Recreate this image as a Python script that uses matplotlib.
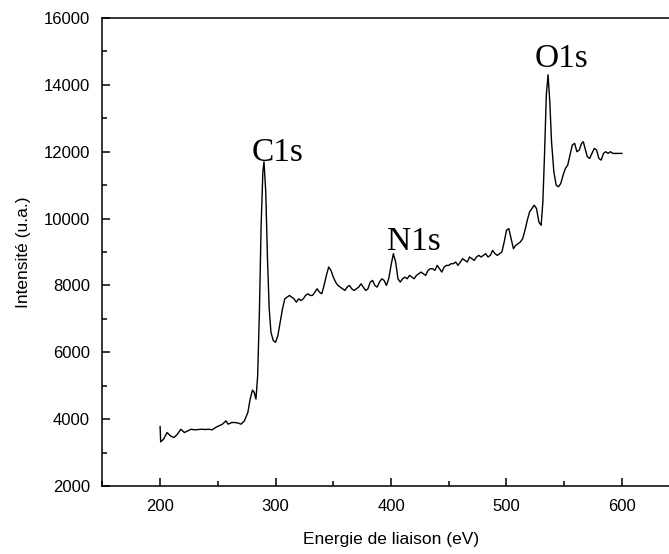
import numpy as np
import matplotlib.pyplot as plt

# XPS survey spectrum: binding energy (eV) vs intensity (a.u.)
energie = [
    200, 200.5, 203, 206, 209, 212, 215, 218, 221, 224, 227, 230, 233, 236,
    239, 242, 245, 248, 251, 254, 257, 259, 262, 265, 268, 270, 273, 276,
    278, 280, 281.5, 283, 284.5, 286, 287.5, 289, 290, 291.5, 293, 294.5,
    296, 298, 300, 302, 304, 306, 308, 310, 312, 314, 316, 318, 320, 322,
    324, 326, 328, 330, 332, 334, 336, 338, 340, 342, 344, 346, 348, 350,
    352, 354, 356, 358, 360, 362, 364, 366, 368, 370, 372, 374, 376, 378,
    380, 382, 384, 386, 388, 390, 392, 394, 396, 398, 400, 402, 404, 406,
    408, 410, 412, 414, 416, 418, 420, 422, 424, 426, 428, 430, 432, 434,
    436, 438, 440, 442, 444, 446, 448, 450, 452, 454, 456, 458, 460, 462,
    464, 466, 468, 470, 472, 474, 476, 478, 480, 482, 484, 486, 488, 490,
    492, 494, 496, 498, 500, 502, 504, 506, 508, 510, 512, 514, 516, 518,
    520, 522, 524, 526, 528, 530, 531.5, 533, 534.5, 536, 537.5, 539, 541,
    543, 545, 547, 549, 551, 553, 555, 557, 559, 561, 563, 565, 566.5, 568,
    570, 572, 574, 576, 578, 580, 582, 584, 586, 588, 590, 592, 596, 600,
]
intensite = [
    3780, 3320, 3400, 3600, 3500, 3450, 3550, 3700, 3600, 3650, 3700, 3680, 3690, 3700,
    3690, 3700, 3680, 3750, 3800, 3850, 3950, 3850, 3900, 3900, 3880, 3850, 3950, 4200,
    4600, 4870, 4800, 4600, 5300, 7200, 9800, 11400, 11700, 10800, 8800, 7300,
    6600, 6350, 6300, 6500, 6900, 7300, 7600, 7650, 7700, 7650, 7600, 7500, 7600, 7550,
    7600, 7700, 7750, 7700, 7700, 7800, 7900, 7800, 7750, 8000, 8300, 8550, 8450, 8250,
    8100, 8000, 7950, 7900, 7850, 7950, 8000, 7900, 7850, 7900, 7950, 8050, 7950, 7850,
    7900, 8100, 8150, 8000, 7950, 8100, 8200, 8150, 8000, 8200, 8600, 8950, 8700, 8200,
    8100, 8200, 8250, 8200, 8300, 8250, 8200, 8300, 8350, 8400, 8350, 8300, 8450, 8500,
    8500, 8450, 8600, 8500, 8400, 8550, 8600, 8600, 8650, 8650, 8700, 8600, 8700, 8800,
    8750, 8700, 8850, 8800, 8750, 8850, 8900, 8850, 8900, 8950, 8850, 8900, 9050, 8950,
    8900, 8950, 9000, 9300, 9650, 9700, 9400, 9100, 9200, 9250, 9300, 9400, 9650, 9950,
    10200, 10300, 10400, 10300, 9900, 9800, 10500, 12000, 13700, 14300, 13500, 12300, 11400,
    11000, 10950, 11050, 11300, 11500, 11600, 11900, 12200, 12250, 12000, 12050, 12250, 12300, 12100,
    11850, 11800, 11950, 12100, 12050, 11800, 11750, 11950, 12000, 11950, 12000, 11950, 11950, 11950,
]

# peak labels
pics = ["C1s", "N1s", "O1s"]
pics_x = [302, 420, 548]
pics_y = [11730, 9050, 14540]

fig = plt.figure(figsize=(6.69, 5.54), dpi=100)
ax = fig.add_axes([0.153, 0.1227, 0.863, 0.8448])

ax.plot(energie, intensite, color="black", linewidth=1.0)

for nom, x, y in zip(pics, pics_x, pics_y):
    ax.text(x, y, nom, ha="center", va="baseline", fontsize=24,
            family="Liberation Serif")

ax.set_xlim(150, 650)
ax.set_ylim(2000, 16000)
ax.set_xticks(np.arange(200, 601, 100))
ax.set_xticks(np.arange(150, 651, 50), minor=True)
ax.set_yticks(np.arange(2000, 16001, 2000))
ax.set_yticks(np.arange(3000, 16000, 2000), minor=True)

ax.tick_params(which="both", direction="in", top=False, right=False,
               labelsize=12, width=1.1)
ax.tick_params(which="major", length=6, pad=9)
ax.tick_params(which="minor", length=3.5)
for s in ax.spines.values():
    s.set_linewidth(1.1)

for lab in ax.get_xticklabels() + ax.get_yticklabels():
    lab.set_family("Liberation Sans")

ax.set_xlabel("Energie de liaison (eV)", fontsize=12.5, family="Liberation Sans", labelpad=13)
ax.set_ylabel("Intensité (u.a.)", fontsize=12.5, family="Liberation Sans", labelpad=9)

fig.savefig("out.png", dpi=100)
